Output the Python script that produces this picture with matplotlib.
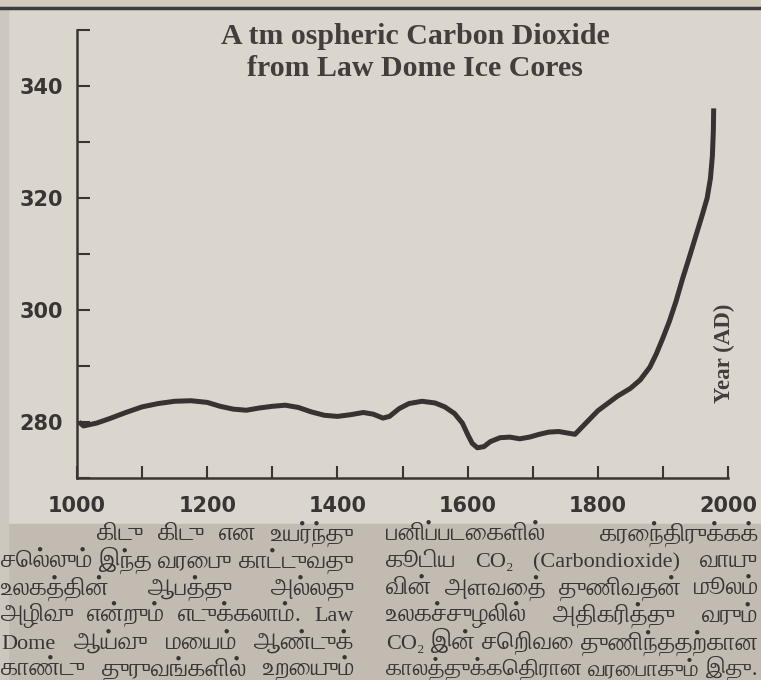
import matplotlib
matplotlib.use('Agg')
import matplotlib.pyplot as plt
from matplotlib import font_manager
from matplotlib.ft2font import FT2Font
from matplotlib.patches import Rectangle
from matplotlib.ticker import MultipleLocator

# Law Dome CO2 record
years = [1003, 1010, 1030, 1050, 1075, 1100, 1125, 1150, 1175, 1200,
         1220, 1240, 1260, 1280, 1300, 1320, 1340, 1360, 1380, 1400,
         1420, 1440, 1455, 1470, 1480, 1495, 1510, 1530, 1550, 1565,
         1580, 1592, 1600, 1607, 1615, 1625, 1635, 1650, 1665, 1680,
         1695, 1710, 1725, 1740, 1755, 1765, 1775, 1790, 1800, 1815,
         1830, 1850, 1865, 1880, 1890, 1900, 1910, 1920, 1930, 1940,
         1950, 1960, 1968, 1973, 1976, 1977.5, 1978]
co2 = [280.0, 279.3, 279.8, 280.6, 281.7, 282.7, 283.3, 283.7, 283.8, 283.5,
       282.8, 282.3, 282.1, 282.5, 282.8, 283.0, 282.6, 281.8, 281.2, 281.0,
       281.3, 281.7, 281.4, 280.7, 281.0, 282.4, 283.3, 283.7, 283.4, 282.7,
       281.5, 279.8, 277.8, 276.2, 275.4, 275.6, 276.5, 277.2, 277.3, 277.0,
       277.3, 277.8, 278.2, 278.3, 278.0, 277.8, 279.0, 280.8, 282.0, 283.3,
       284.6, 286.0, 287.5, 289.8, 292.2, 295.0, 298.0, 301.5, 305.5, 309.2,
       313.0, 316.8, 320.0, 323.5, 327.5, 332.0, 336.0]

x_ticks = [1000, 1200, 1400, 1600, 1800, 2000]
y_ticks = [280, 300, 320, 340]

title_lines = ["A tm ospheric Carbon Dioxide", "from Law Dome Ice Cores"]
axis_note = "Year (AD)"

left_col = [
    "கிடு கிடு என உயர்ந்து",
    "செல்லும் இந்த வரைபு காட்டுவது",
    "உலகத்தின் ஆபத்து அல்லது",
    "அழிவு என்றும் எடுக்கலாம். Law",
    "Dome ஆய்வு மையம் ஆண்டுக்",
    "காண்டு துருவங்களில் உறையும்",
]
right_col = [
    "பனிப்படைகளில் கரைந்திருக்கக்",
    "கூடிய CO₂ (Carbondioxide) வாயு",
    "வின் அளவைத் துணிவதன் மூலம்",
    "உலகச்சுழலில் அதிகரித்து வரும்",
    "CO₂ இன் செறிவை துணிந்ததற்கான",
    "காலத்துக்கெதிரான வரைபாகும் இது.",
]

PAPER = '#dad6ce'
BAND = '#c1bbb1'
INK = '#3a3535'
W, H = 761, 680


def fx(px):
    return px / W


def fy(py):
    return 1 - py / H


def find_tamil_family():
    found = []
    for f in font_manager.fontManager.ttflist:
        try:
            if 0x0B95 in FT2Font(f.fname).get_charmap():
                found.append(f.name)
        except Exception:
            continue
    serif = [n for n in found if 'Serif' in n]
    if serif:
        return serif[0]
    if found:
        return found[0]
    return 'DejaVu Sans'


def is_tamil(word):
    return any('\u0b80' <= c <= '\u0bff' for c in word)


tamil_family = find_tamil_family()
latin_family = ['Liberation Serif', 'DejaVu Serif']

fig = plt.figure(figsize=(W / 100, H / 100), dpi=100)
fig.patch.set_facecolor(PAPER)

# paper decorations: darker text band, left edge, top rule
fig.add_artist(Rectangle((0, 0), 1, fy(524), transform=fig.transFigure,
                         color=BAND, zorder=-10))
fig.add_artist(Rectangle((0, 0), fx(8), 1, transform=fig.transFigure,
                         color='#cdc8bf', zorder=-9))
fig.add_artist(Rectangle((0, fy(6)), 1, 1 - fy(6), transform=fig.transFigure,
                         color='#d3cabd', zorder=-9))
fig.add_artist(plt.Line2D([0, 1], [fy(7.5), fy(7.5)], transform=fig.transFigure,
                          color='#3c3b40', lw=2.5))

ax = fig.add_axes([fx(77), fy(478), fx(728) - fx(77), fy(30) - fy(478)])
ax.set_facecolor('none')
ax.plot(years, co2, color='#3a3133', lw=3.6, solid_capstyle='butt',
        solid_joinstyle='round')

ax.set_xlim(1000, 2000)
ax.set_ylim(270, 350)
ax.set_xticks(x_ticks)
ax.set_xticklabels([str(v) for v in x_ticks])
ax.set_yticks(y_ticks)
ax.set_yticklabels([str(v) for v in y_ticks])
ax.xaxis.set_minor_locator(MultipleLocator(100))
ax.yaxis.set_minor_locator(MultipleLocator(10))

for side in ['top', 'right']:
    ax.spines[side].set_visible(False)
for side in ['left', 'bottom']:
    ax.spines[side].set_color(INK)
    ax.spines[side].set_linewidth(1.8)

ax.tick_params(axis='both', which='both', direction='in', length=9,
               width=1.5, color=INK)
ax.tick_params(axis='x', pad=13)
ax.tick_params(axis='y', pad=10)
for lab in ax.get_xticklabels() + ax.get_yticklabels():
    lab.set_fontsize(15)
    lab.set_fontweight('bold')
    lab.set_color(INK)
    lab.set_family('DejaVu Sans')

# title and rotated note
fig.text(fx(415), fy(36), title_lines[0], ha='center', va='center',
         fontsize=21.5, fontweight='bold', family=latin_family, color='#453d3d')
fig.text(fx(415), fy(69), title_lines[1], ha='center', va='center',
         fontsize=21.5, fontweight='bold', family=latin_family, color='#453d3d')
fig.text(fx(724), fy(353), axis_note, ha='center', va='center', rotation=90,
         fontsize=16.5, fontweight='bold', family=latin_family, color='#453d3d')

# justified Tamil paragraph in two columns
renderer = fig.canvas.get_renderer()
TAMIL_SIZE = 18
LATIN_SIZE = 16
baselines = [540, 567, 594, 621, 649, 675]


def set_line(text, x0, x1, base):
    words = text.split(' ')
    scale = 1.0
    while True:
        arts = []
        for w in words:
            if is_tamil(w):
                fam, size = [tamil_family, 'Liberation Serif', 'DejaVu Serif'], TAMIL_SIZE
            else:
                fam, size = latin_family, LATIN_SIZE
            arts.append(fig.text(0, fy(base), w, fontsize=size * scale, family=fam,
                                 color=INK, ha='left', va='baseline'))
        widths = [a.get_window_extent(renderer).width for a in arts]
        gap = (x1 - x0 - sum(widths)) / max(len(words) - 1, 1)
        if gap >= 5 or scale < 0.7:
            break
        for a in arts:
            a.remove()
        scale -= 0.03
    x = x0
    for a, wd in zip(arts, widths):
        a.set_x(fx(x))
        x += wd + gap


for i, line in enumerate(left_col):
    set_line(line, 97 if i == 0 else 1, 354, baselines[i])
for i, line in enumerate(right_col):
    set_line(line, 386, 758, baselines[i])

fig.savefig('out.png', dpi=100, facecolor=fig.get_facecolor())
